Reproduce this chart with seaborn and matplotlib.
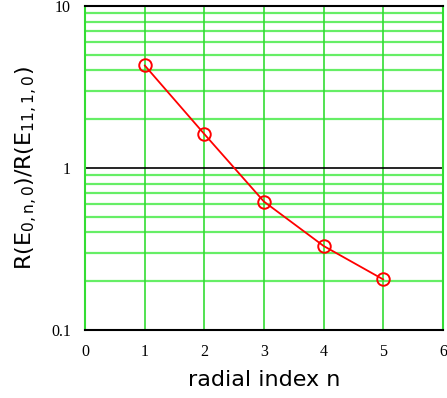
import numpy as np
import matplotlib
matplotlib.use('Agg')
import matplotlib.pyplot as plt
import seaborn as sns
import pandas as pd
from matplotlib.ticker import NullFormatter, LogLocator

n = [1, 2, 3, 4, 5]
ratio = [4.3, 1.62, 0.62, 0.33, 0.205]
df = pd.DataFrame({'n': n, 'ratio': ratio})

sns.set_style('white')
plt.rcParams['text.color'] = 'black'
plt.rcParams['axes.labelcolor'] = 'black'
plt.rcParams['xtick.color'] = 'black'
plt.rcParams['ytick.color'] = 'black'
plt.rcParams['mathtext.default'] = 'regular'

fig = plt.figure(figsize=(4.47, 3.98), dpi=100)
ax = fig.add_axes([85 / 447, 68 / 398, 358 / 447, 324 / 398])

ax.set_yscale('log')
ax.set_xlim(0, 6)
ax.set_ylim(0.1, 10)

# grid
ax.yaxis.set_minor_locator(LogLocator(base=10, subs=np.arange(2, 10)))
ax.yaxis.set_minor_formatter(NullFormatter())
for v in [k * 10.0 ** e for e in (-1, 0) for k in range(2, 10)]:
    ax.axhline(v, color='#66ee66', lw=1.6, zorder=0)
ax.axhline(1, color='black', lw=1.2, zorder=1)
for xv in [1, 2, 3, 4, 5]:
    ax.axvline(xv, color='#33dd33', lw=1.2, zorder=0)

sns.lineplot(data=df, x='n', y='ratio', ax=ax, color='red', lw=1.3,
             marker='o', markersize=9, markerfacecolor='none',
             markeredgecolor='red', markeredgewidth=1.4)

ax.set_xticks([0, 1, 2, 3, 4, 5, 6])
ax.set_yticks([0.1, 1, 10])
ax.set_yticklabels(['0.1', '1', '10'])
ax.tick_params(axis='both', which='both', length=0, labelsize=11.5, pad=10)
for lab in ax.get_xticklabels() + ax.get_yticklabels():
    lab.set_family('Liberation Serif')

ax.spines['top'].set_color('black')
ax.spines['bottom'].set_color('black')
ax.spines['left'].set_color('#33dd33')
ax.spines['right'].set_color('#33dd33')
for s in ax.spines.values():
    s.set_linewidth(1.5)

ax.set_xlabel('radial index n', fontsize=16, labelpad=7)
ax.set_ylabel(r'R(E$_{0,n,0}$)/R(E$_{11,1,0}$)', fontsize=16, labelpad=8)

fig.savefig('out.png', dpi=100)
